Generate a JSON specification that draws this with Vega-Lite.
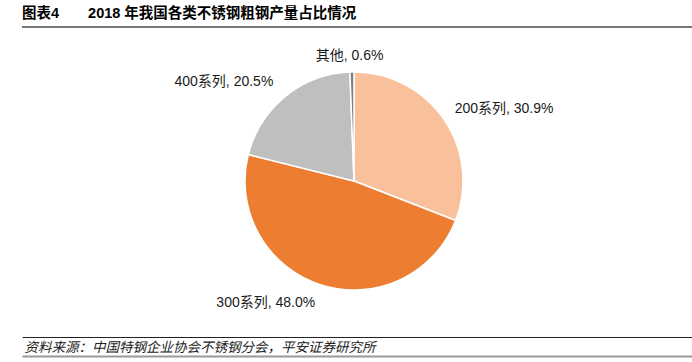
{
  "$schema": "https://vega.github.io/schema/vega-lite/v6.json",
  "autosize": {"type": "none"},
  "width": 670,
  "height": 310,
  "padding": {"left": 22, "top": 27, "right": 0, "bottom": 25},
  "background": "white",
  "config": {
    "view": {"stroke": null},
    "font": "Liberation Sans, Noto Sans CJK SC",
    "text": {"font": "Liberation Sans, Noto Sans CJK SC"}
  },
  "title": {
    "text": "图表4\u2003\u20032018 年我国各类不锈钢粗钢产量占比情况",
    "anchor": "start",
    "frame": "group",
    "font": "Liberation Sans, Noto Sans CJK SC",
    "fontSize": 14.5,
    "fontWeight": "bold",
    "color": "#000000",
    "offset": 5
  },
  "data": {
    "values": [
      {"cat": "200系列", "value": 30.9, "label": "200系列, 30.9%"},
      {"cat": "300系列", "value": 48.0, "label": "300系列, 48.0%"},
      {"cat": "400系列", "value": 20.5, "label": "400系列, 20.5%"},
      {"cat": "其他", "value": 0.6, "label": "其他, 0.6%"}
    ]
  },
  "layer": [
    {
      "mark": {"type": "point", "opacity": 0, "clip": true},
      "encoding": {
        "x": {"field": "value", "type": "quantitative",
          "axis": {"orient": "bottom", "domain": true, "domainColor": "#222222", "domainWidth": 1.2,
            "ticks": false, "labels": false, "grid": false,
            "title": "资料来源：中国特钢企业协会不锈钢分会，平安证券研究所",
            "titleAnchor": "start", "titleAlign": "left", "titleBaseline": "top",
            "titlePadding": 3, "titleX": 2,
            "titleFont": "Liberation Sans, Noto Sans CJK SC", "titleFontSize": 13.5,
            "titleFontStyle": "italic", "titleFontWeight": "normal", "titleColor": "#222222"}},
        "y": {"field": "value", "type": "quantitative", "scale": {"domain": [0, 1]}, "axis": null}
      }
    },
    {
      "mark": {"type": "rule", "color": "#777777", "strokeWidth": 2},
      "encoding": {
        "y": {"datum": 1, "type": "quantitative"}
      }
    },
    {
      "mark": {"type": "point", "opacity": 0},
      "encoding": {
        "x": {"field": "value", "type": "quantitative",
          "axis": {"orient": "bottom", "offset": 19, "domain": true, "domainColor": "#999999", "domainWidth": 2,
            "ticks": false, "labels": false, "grid": false, "title": null}}
      }
    },
    {
      "mark": {"type": "arc", "outerRadius": 109, "stroke": "white", "strokeWidth": 1.5, "xOffset": -3, "yOffset": -1},
      "encoding": {
        "theta": {"field": "value", "type": "quantitative", "stack": true},
        "color": {"field": "cat", "type": "nominal",
          "scale": {"domain": ["200系列", "300系列", "400系列", "其他"],
                    "range": ["#F8C19B", "#ED7D31", "#BFBFBF", "#7F7F7F"]},
          "legend": null},
        "order": {"field": "cat", "type": "ordinal"}
      }
    },
    {
      "mark": {"type": "text", "radius": 128, "align": "left", "baseline": "middle", "fontSize": 14, "color": "#1a1a1a", "xOffset": -3, "yOffset": -1, "dx": -5},
      "encoding": {
        "theta": {"field": "value", "type": "quantitative", "stack": true},
        "detail": {"field": "cat", "type": "nominal"},
        "order": {"field": "cat", "type": "ordinal"},
        "text": {"condition": {"test": "datum.cat === '200系列'", "field": "label"}, "value": ""}
      }
    },
    {
      "mark": {"type": "text", "radius": 128, "align": "right", "baseline": "middle", "fontSize": 14, "color": "#1a1a1a", "xOffset": -3, "yOffset": -1, "dx": 0},
      "encoding": {
        "theta": {"field": "value", "type": "quantitative", "stack": true},
        "detail": {"field": "cat", "type": "nominal"},
        "order": {"field": "cat", "type": "ordinal"},
        "text": {"condition": {"test": "datum.cat === '300系列' || datum.cat === '400系列'", "field": "label"}, "value": ""}
      }
    },
    {
      "mark": {"type": "text", "radius": 128, "align": "center", "baseline": "middle", "fontSize": 14, "color": "#1a1a1a", "xOffset": -3, "yOffset": -1, "dx": -2, "dy": 3},
      "encoding": {
        "theta": {"field": "value", "type": "quantitative", "stack": true},
        "detail": {"field": "cat", "type": "nominal"},
        "order": {"field": "cat", "type": "ordinal"},
        "text": {"condition": {"test": "datum.cat === '其他'", "field": "label"}, "value": ""}
      }
    }
  ],
  "resolve": {"scale": {"x": "independent"}, "axis": {"x": "independent"}}
}
